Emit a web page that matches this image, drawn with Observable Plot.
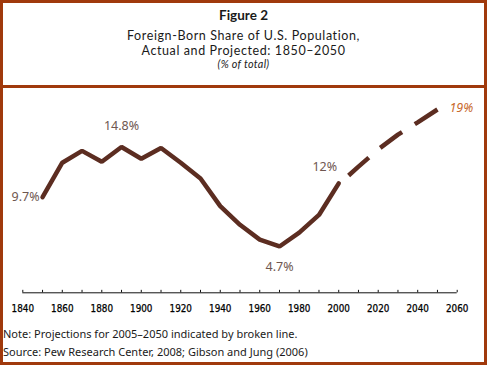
<!DOCTYPE html>
<html>
<head>
<meta charset="utf-8">
<script src="https://cdn.jsdelivr.net/npm/d3@7"></script>
<script src="https://cdn.jsdelivr.net/npm/@observablehq/plot@0.6"></script>
<style>
  html, body { margin: 0; padding: 0; background: #fff; }
  body { width: 489px; height: 366px; position: relative; overflow: hidden; font-family: "Noto Sans", sans-serif; }
  .frame { position: absolute; left: 0; top: 0; width: 487px; height: 365px; box-sizing: border-box; border: 3px solid #a0390c; pointer-events: none; }
  .divider { position: absolute; left: 0; top: 85px; width: 487px; height: 3px; background: #a0390c; }
  .t { position: absolute; left: 0; width: 487px; text-align: center; color: #1a1a1a; white-space: nowrap; font-family: Lato, "Noto Sans", sans-serif; }
  .note { position: absolute; left: 3px; color: #1a1a1a; font-size: 11px; white-space: nowrap; }
  #chart { position: absolute; left: 0; top: 88px; }
</style>
</head>
<body>
<div class="t" style="top:7.5px; font-size:13.5px; font-weight:bold; line-height:15px;">Figure 2</div>
<div class="t" style="top:27.5px; font-size:12.5px; letter-spacing:0.6px; line-height:15px;">Foreign-Born Share of U.S. Population,</div>
<div class="t" style="top:42.5px; font-size:12.5px; letter-spacing:0.6px; line-height:15px;">Actual and Projected: 1850–2050</div>
<div class="t" style="top:58px; font-size:10.8px; font-style:italic; letter-spacing:0.3px; line-height:12px;">(% of total)</div>
<div id="chart"></div>
<div class="note" style="top:327px; line-height:14px;">Note: Projections for 2005–2050 indicated by broken line.</div>
<div class="note" style="top:345px; line-height:14px;">Source: Pew Research Center, 2008; Gibson and Jung (2006)</div>
<div class="divider"></div>
<div class="frame"></div>
<script>
// Actual foreign-born share (% of total)
const actualYears = [1850, 1860, 1870, 1880, 1890, 1900, 1910, 1920, 1930, 1940, 1950, 1960, 1970, 1980, 1990, 2000];
const actualShare = [9.7, 13.2, 14.4, 13.3, 14.8, 13.6, 14.7, 13.2, 11.6, 8.8, 6.9, 5.4, 4.7, 6.1, 7.9, 11.1];
// Projected share (% of total)
const projYears = [2005, 2010, 2020, 2030, 2040, 2050];
const projShare = [11.9, 12.8, 14.55, 16.05, 17.3, 18.6];
// Axis ticks
const tickYears = d3.range(1840, 2061, 10);
const labelYears = [1840, 1860, 1880, 1900, 1920, 1940, 1960, 1980, 2000, 2020, 2040, 2060];
// Annotations
const annYears = [1850, 1890, 1970, 2005];
const annSeries = ["actual", "actual", "actual", "proj"];
const annText = ["9.7%", "14.8%", "4.7%", "12%"];

const actual = actualYears.map((y, i) => ({year: y, share: actualShare[i]}));
const proj = projYears.map((y, i) => ({year: y, share: projShare[i]}));
const valueAt = (yr, s) => (s === "proj" ? proj : actual).find(d => d.year === yr).share;
const ann = annYears.map((y, i) => ({year: y, share: valueAt(y, annSeries[i]), text: annText[i]}));
const last = proj[proj.length - 1];

const lineColor = "#5c2d21";
const annColor = "#6f5750";

const chart = Plot.plot({
  width: 489,
  height: 230,
  marginLeft: 22.3,
  marginRight: 32.3,
  marginTop: 7.2,
  marginBottom: 25.7,
  x: {domain: [1840, 2060], axis: null},
  y: {domain: [0, 20], axis: null},
  style: {background: "transparent", overflow: "visible"},
  marks: [
    Plot.ruleY([0], {x1: 1840, x2: 2060, stroke: "#111", strokeWidth: 1}),
    Plot.ruleX(tickYears, {x: d => d, y1: 0, y2: 0.25, stroke: "#111", strokeWidth: 1}),
    Plot.text(labelYears, {x: d => d, y: 0, dy: 15.7, text: d => String(d), fontSize: 9.8, fontWeight: "normal", fill: "#000", stroke: "#000", strokeWidth: 0.25, fontFamily: "'Liberation Sans Narrow', 'DejaVu Sans Condensed', sans-serif"}),
    Plot.line(actual, {x: "year", y: "share", stroke: lineColor, strokeWidth: 4.5, strokeLinejoin: "miter", strokeLinecap: "round"}),
    Plot.line(proj, {x: "year", y: "share", stroke: lineColor, strokeWidth: 4.5, strokeDasharray: "27,15", strokeLinecap: "butt", strokeLinejoin: "miter"}),
    Plot.text([ann[0]], {x: "year", y: "share", text: "text", textAnchor: "end", dx: -3, fill: annColor, fontSize: 12.5}),
    Plot.text([ann[1]], {x: "year", y: "share", text: "text", dy: -20.5, fill: annColor, fontSize: 12.5}),
    Plot.text([ann[2]], {x: "year", y: "share", text: "text", dy: 20.3, fill: annColor, fontSize: 12.5}),
    Plot.text([ann[3]], {x: "year", y: "share", text: "text", textAnchor: "end", dx: -11.5, dy: -8.5, fill: annColor, fontSize: 12.5}),
    Plot.text([last], {x: "year", y: "share", text: d => Math.round(d.share) + "%", textAnchor: "start", dx: 12, dy: -1.5, fill: "#c8692d", fontSize: 12.5, fontStyle: "italic"})
  ]
});
chart.style.fontFamily = "'Noto Sans', sans-serif";
document.getElementById("chart").appendChild(chart);
</script>
</body>
</html>
